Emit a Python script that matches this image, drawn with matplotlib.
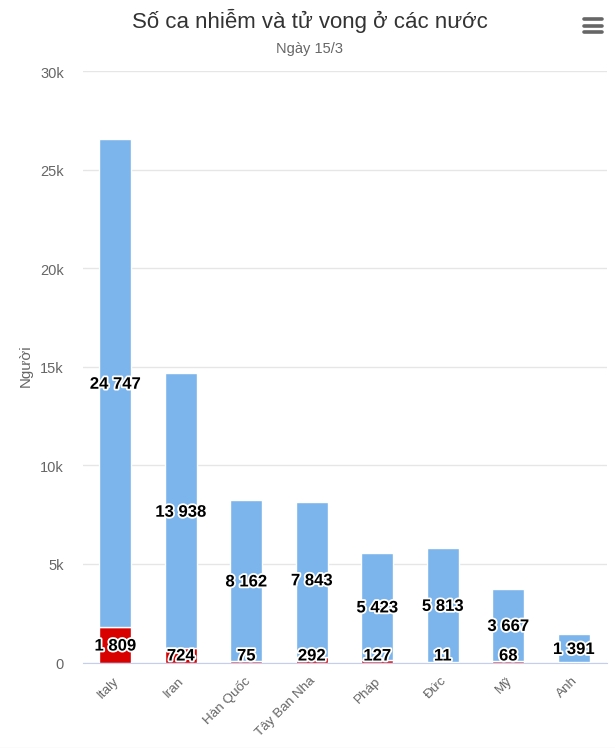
import matplotlib
matplotlib.use('Agg')
import matplotlib.pyplot as plt
import matplotlib.patheffects as pe
from matplotlib.lines import Line2D
from matplotlib.transforms import ScaledTranslation

plt.rcParams['font.family'] = ['Liberation Sans', 'DejaVu Sans']

countries = ['Italy', 'Iran', 'Hàn Quốc', 'Tây Ban Nha', 'Pháp', 'Đức', 'Mỹ', 'Anh']
infected = [24747, 13938, 8162, 7843, 5423, 5813, 3667, 1391]
deaths = [1809, 724, 75, 292, 127, 11, 68, 35]
infected_labels = ['24 747', '13 938', '8 162', '7 843', '5 423', '5 813', '3 667', '1 391']
# the last country has no death label in the picture
death_labels = ['1 809', '724', '75', '292', '127', '11', '68', '']
yticks = [0, 5000, 10000, 15000, 20000, 25000, 30000]
yticklabels = ['0', '5k', '10k', '15k', '20k', '25k', '30k']

W, H = 615, 748
fig = plt.figure(figsize=(W/100., H/100.), dpi=100)
ax = fig.add_axes([82.5/W, 1-662.5/H, 524./W, (662.5-71)/H])

x = range(len(countries))
ax.bar(x, deaths, width=0.485, color='#d90000', edgecolor='white', linewidth=1, zorder=3)
ax.bar(x, infected, width=0.485, bottom=deaths, color='#7cb5ec', edgecolor='white', linewidth=1, zorder=3)

ax.set_xlim(-0.5, 7.5)
ax.set_ylim(0, 30000)

ax.set_yticks(yticks)
ax.set_yticklabels(yticklabels, fontsize=10.5, color='#666666')
ax.set_xticks(list(x))
ax.set_xticklabels(countries, fontsize=9.7, color='#666666', rotation=45, ha='right',
                   rotation_mode='anchor')
ax.tick_params(axis='y', length=0, pad=13.5)
ax.tick_params(axis='x', length=0, pad=9)

# nudge tick labels to where the original sits
for lab in ax.get_yticklabels():
    lab.set_transform(lab.get_transform() + ScaledTranslation(0, -1/100., fig.dpi_scale_trans))
for lab in ax.get_xticklabels():
    lab.set_transform(lab.get_transform() + ScaledTranslation(-2.5/100., 0, fig.dpi_scale_trans))

ax.grid(axis='y', color='#e6e6e6', linewidth=1)
ax.set_axisbelow(True)
for side in ['top', 'left', 'right']:
    ax.spines[side].set_visible(False)
ax.spines['bottom'].set_color('#c4cff0')
ax.spines['bottom'].set_zorder(4)

ax.set_ylabel('Người', fontsize=10.8, color='#666666')
ax.yaxis.set_label_coords((33-82.5)/524., 0.5025, transform=ax.transAxes)

outline = [pe.withStroke(linewidth=2.6, foreground='white')]
for i in x:
    y_top = deaths[i] + infected[i]/2.
    ax.annotate(infected_labels[i], (i, y_top), xytext=(0, -1), textcoords='offset points',
                ha='center', va='center', fontsize=12, fontweight='bold',
                color='black', path_effects=outline, zorder=6)
    if death_labels[i]:
        # small segments: label gets pushed up so it stays inside the plot
        y_low = max(deaths[i]/2., 400)
        ax.annotate(death_labels[i], (i, y_low), xytext=(0, -1), textcoords='offset points',
                    ha='center', va='center', fontsize=12, fontweight='bold',
                    color='black', path_effects=outline, zorder=6)

fig.text(310./W, 1-21./H, 'Số ca nhiễm và tử vong ở các nước', ha='center', va='center',
         fontsize=16, color='#333333')
fig.text(310./W, 1-48.5/H, 'Ngày 15/3', ha='center', va='center', fontsize=10.5, color='#666666')

# menu button
for yy in [19, 25.5, 32]:
    fig.add_artist(Line2D([583.5/W, 601.5/W], [1-yy/H, 1-yy/H], color='#666666', linewidth=2.6,
                          solid_capstyle='round'))

# thin strip at the bottom edge of the page
fig.add_artist(Line2D([0, 1], [0.5/H, 0.5/H], color='#eeeeee', linewidth=1))

fig.savefig('out.png', dpi=100)
